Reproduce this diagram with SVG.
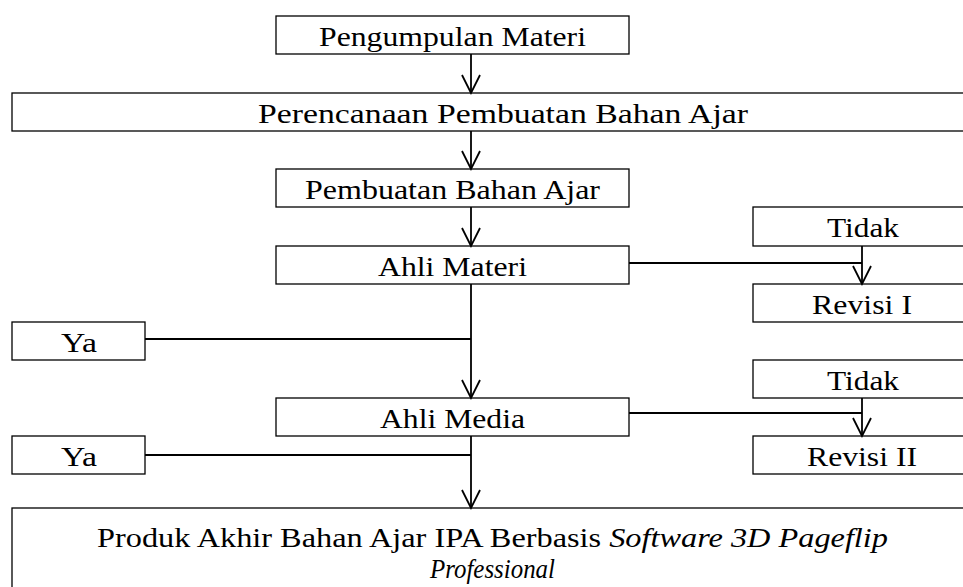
<svg xmlns="http://www.w3.org/2000/svg" width="963" height="587" viewBox="0 0 963 587">
<style>
.box{fill:#fff;stroke:#000;stroke-width:1.3}
.t{font-family:"Liberation Serif","Times New Roman",serif;font-size:28px;fill:#000;text-anchor:middle}
.c{fill:none;stroke:#000;stroke-width:1.8}
.a{fill:none;stroke:#000;stroke-width:1.8;marker-end:url(#v)}
</style>
<defs>
<marker id="v" markerUnits="userSpaceOnUse" viewBox="-20 -11 22 22" markerWidth="22" markerHeight="22" refX="0" refY="0" orient="auto" overflow="visible">
<path d="M-18,-9 L0,0 L-18,9" fill="none" stroke="#000" stroke-width="1.8"/>
</marker>
</defs>
<g id="n1"><rect class="box" x="276" y="16" width="353" height="38"/><text class="t" x="452.5" y="46" textLength="267" lengthAdjust="spacingAndGlyphs">Pengumpulan Materi</text></g>
<g id="n2"><rect class="box" x="12" y="93" width="990" height="38"/><text class="t" x="503" y="123" textLength="490" lengthAdjust="spacingAndGlyphs">Perencanaan Pembuatan Bahan Ajar</text></g>
<g id="n3"><rect class="box" x="276" y="169" width="353" height="38"/><text class="t" x="452.5" y="199" textLength="295" lengthAdjust="spacingAndGlyphs">Pembuatan Bahan Ajar</text></g>
<g id="n4"><rect class="box" x="276" y="246" width="353" height="38"/><text class="t" x="452.5" y="276" textLength="149" lengthAdjust="spacingAndGlyphs">Ahli Materi</text></g>
<g id="n5"><rect class="box" x="753" y="207" width="230" height="39"/><text class="t" x="863" y="237" textLength="72" lengthAdjust="spacingAndGlyphs">Tidak</text></g>
<g id="n6"><rect class="box" x="753" y="284" width="230" height="38"/><text class="t" x="862" y="314" textLength="100" lengthAdjust="spacingAndGlyphs">Revisi I</text></g>
<g id="n7"><rect class="box" x="12" y="322" width="133" height="38"/><text class="t" x="79" y="352" textLength="36" lengthAdjust="spacingAndGlyphs">Ya</text></g>
<g id="n8"><rect class="box" x="753" y="360" width="230" height="38"/><text class="t" x="863" y="390" textLength="72" lengthAdjust="spacingAndGlyphs">Tidak</text></g>
<g id="n9"><rect class="box" x="276" y="398" width="353" height="38"/><text class="t" x="452.5" y="428" textLength="145" lengthAdjust="spacingAndGlyphs">Ahli Media</text></g>
<g id="n10"><rect class="box" x="12" y="436" width="133" height="38"/><text class="t" x="79" y="466" textLength="36" lengthAdjust="spacingAndGlyphs">Ya</text></g>
<g id="n11"><rect class="box" x="753" y="436" width="230" height="38"/><text class="t" x="862" y="466" textLength="110" lengthAdjust="spacingAndGlyphs">Revisi II</text></g>
<g id="n12"><rect class="box" x="12" y="508" width="990" height="100"/>
<text class="t" x="492.5" y="547" textLength="791" lengthAdjust="spacingAndGlyphs">Produk Akhir Bahan Ajar IPA Berbasis <tspan font-style="italic">Software 3D Pageflip</tspan></text>
<text class="t" x="492.5" y="578" font-style="italic" textLength="125" lengthAdjust="spacingAndGlyphs">Professional</text></g>
<g id="connectors">
<path class="a" d="M471,54 V93"/>
<path class="a" d="M471,131 V169"/>
<path class="a" d="M471,207 V246"/>
<path class="a" d="M471,284 V398"/>
<path class="c" d="M145,339 H471"/>
<path class="c" d="M629,263 H862"/>
<path class="a" d="M862,246 V284"/>
<path class="c" d="M629,413 H862"/>
<path class="a" d="M862,398 V436"/>
<path class="a" d="M471,436 V508"/>
<path class="c" d="M145,455 H471"/>
</g>
</svg>
